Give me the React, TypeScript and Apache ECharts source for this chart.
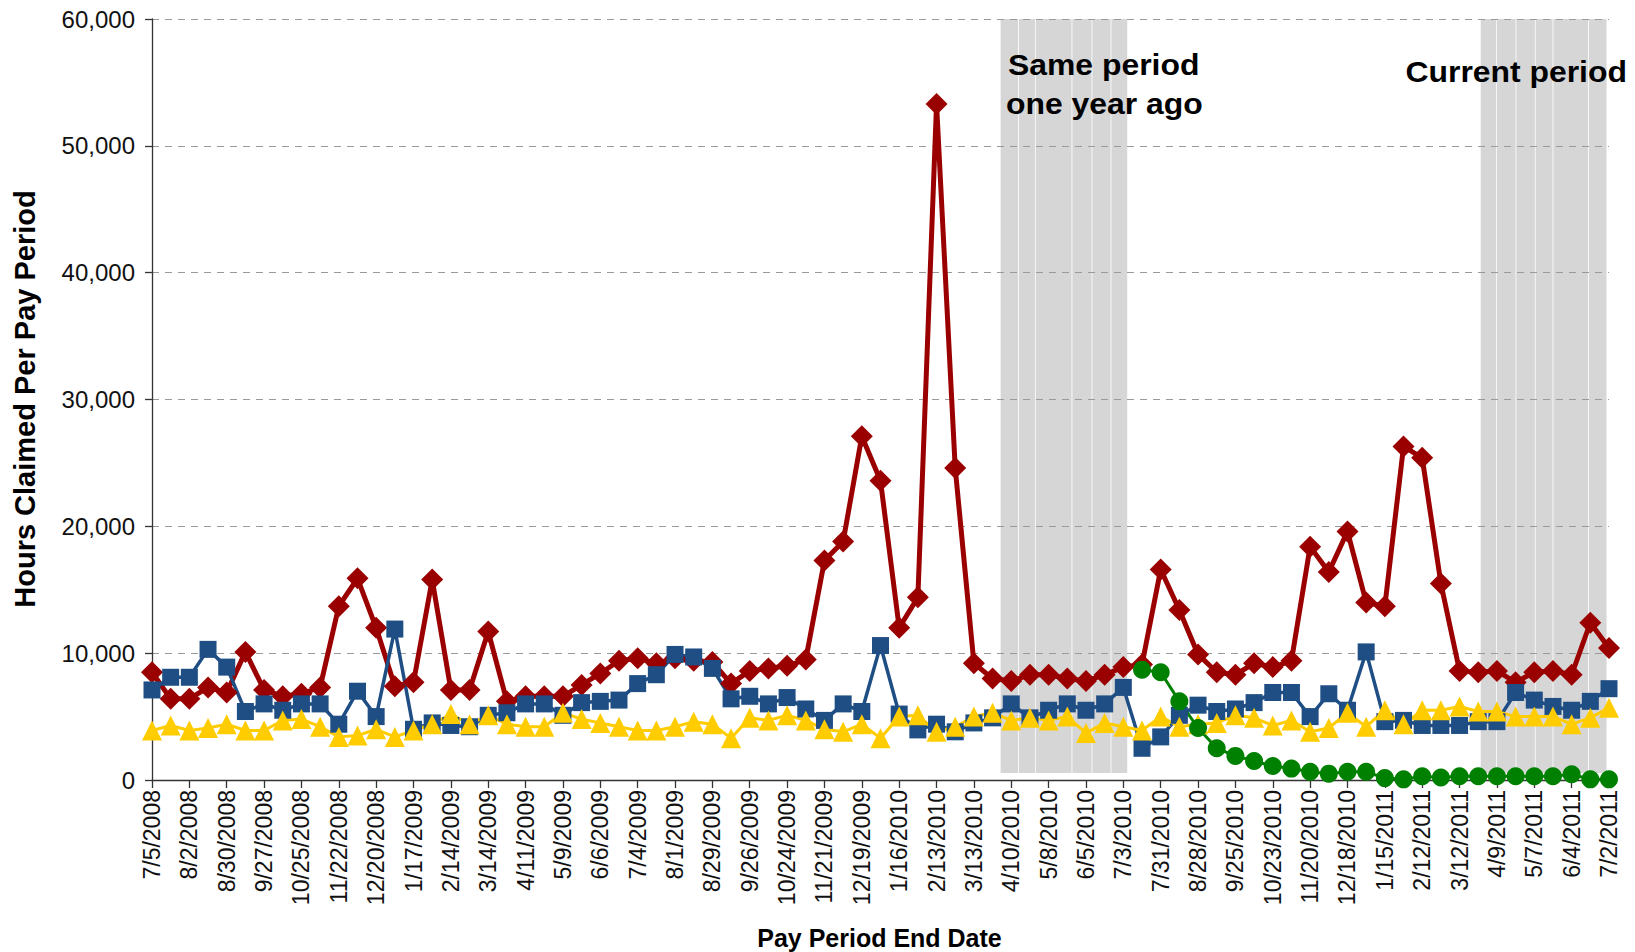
import React, { useEffect, useRef } from "react";
import * as echarts from "echarts";

// Pay period end dates shown on the category ticks (every other period)
const tickDates = [
  "7/5/2008", "8/2/2008", "8/30/2008", "9/27/2008", "10/25/2008", "11/22/2008",
  "12/20/2008", "1/17/2009", "2/14/2009", "3/14/2009", "4/11/2009", "5/9/2009",
  "6/6/2009", "7/4/2009", "8/1/2009", "8/29/2009", "9/26/2009", "10/24/2009",
  "11/21/2009", "12/19/2009", "1/16/2010", "2/13/2010", "3/13/2010", "4/10/2010",
  "5/8/2010", "6/5/2010", "7/3/2010", "7/31/2010", "8/28/2010", "9/25/2010",
  "10/23/2010", "11/20/2010", "12/18/2010", "1/15/2011", "2/12/2011", "3/12/2011",
  "4/9/2011", "5/7/2011", "6/4/2011", "7/2/2011",
];

// Hours claimed per biweekly pay period (79 periods, 7/5/2008 .. 7/2/2011)
const redHours = [
  8500, 6400, 6400, 7300, 6900, 10100, 7100, 6600, 6800, 7300,
  13700, 15900, 12000, 7400, 7700, 15800, 7100, 7100, 11700, 6200,
  6600, 6600, 6600, 7500, 8400, 9400, 9600, 9200, 9600, 9400,
  9300, 7600, 8600, 8800, 9000, 9500, 17300, 18800, 27100, 23600,
  12000, 14400, 53300, 24600, 9200, 8000, 7800, 8300, 8300, 8000,
  7800, 8300, 8900, 9100, 16600, 13400, 9900, 8500, 8300, 9200,
  8900, 9400, 18400, 16400, 19600, 14000, 13700, 26300, 25400, 15500,
  8600, 8500, 8600, 7700, 8500, 8600, 8300, 12400, 10400,
];

const blueHours = [
  7100, 8100, 8100, 10300, 8900, 5400, 6000, 5500, 6000, 6000,
  4400, 7000, 5000, 11900, 4000, 4500, 4300, 4200, 5100, 5300,
  6000, 6000, 5100, 6100, 6200, 6300, 7600, 8300, 9900, 9700,
  8800, 6400, 6600, 6000, 6500, 5600, 4700, 6000, 5400, 10600,
  5200, 3950, 4400, 3800, 4500, 4900, 6000, 4900, 5500, 6000,
  5500, 6000, 7300, 2500, 3400, 5100, 5900, 5400, 5600, 6100,
  6900, 6900, 5000, 6800, 5500, 10100, 4600, 4700, 4300, 4300,
  4300, 4600, 4600, 6900, 6300, 5800, 5500, 6200, 7200,
];

const yellowHours = [
  3900, 4300, 3900, 4100, 4400, 3900, 3900, 4700, 4800, 4200,
  3400, 3500, 4000, 3400, 3900, 4400, 5200, 4400, 5100, 4400,
  4200, 4200, 5300, 4800, 4500, 4200, 3900, 3900, 4200, 4600,
  4400, 3300, 4900, 4700, 5100, 4700, 4000, 3800, 4400, 3300,
  5000, 5100, 3800, 4200, 5000, 5300, 4700, 4900, 4700, 5000,
  3700, 4500, 4200, 3900, 5000, 4200, 4400, 4500, 5100, 4900,
  4300, 4700, 3800, 4100, 5300, 4200, 5500, 4400, 5500, 5500,
  5800, 5400, 5400, 5000, 5000, 5000, 4400, 4900, 5700,
];

// Green series begins at period index 53 (7/17/2010)
const greenStart = 53;
const greenHours = [
  8700, 8500, 6200, 4100, 2500, 1900, 1500, 1100, 900, 650,
  500, 650, 650, 150, 50, 300, 200, 300, 300, 300,
  300, 300, 300, 450, 50, 50,
];

// Shaded comparison windows, in period-index units (column edges)
const sameYearAgoEdges = [45.41, 46.39, 47.29, 49.25, 50.32, 51.34, 52.23];
const currentEdges = [71.11, 71.97, 73.02, 74.05, 75.0, 76.9, 77.89];
const bandFloor = 550;
const bandTop = 60000;

const yTicks = { min: 0, max: 60000, interval: 10000 };

const toPairs = (vals: number[], start = 0) => vals.map((v, i) => [start + i, v]);

const segments = (edges: number[]) =>
  edges.slice(0, -1).map((e, i) => [e, edges[i + 1]]);

export default function App() {
  const ref = useRef<HTMLDivElement>(null);

  useEffect(() => {
    if (!ref.current) return;
    const chart = echarts.init(ref.current, undefined, { renderer: "svg" });
    const lastIndex = redHours.length - 1;

    const lineSeries = (
      name: string,
      data: number[][],
      color: string,
      symbol: string,
      symbolSize: number,
      width: number
    ) => ({
      name,
      type: "line",
      data,
      symbol,
      symbolSize,
      lineStyle: { color, width },
      itemStyle: { color, borderWidth: 0 },
      emphasis: { disabled: true },
      silent: true,
      z: 3,
    });

    chart.setOption({
      animation: false,
      grid: { left: 152, right: 26, top: 19, bottom: 172 },
      xAxis: {
        type: "value",
        min: 0,
        max: lastIndex,
        interval: 2,
        axisLine: { show: true, onZero: false, lineStyle: { color: "#333", width: 1.3 } },
        axisTick: { show: true, length: 8, lineStyle: { color: "#333", width: 1.3 } },
        splitLine: { show: false },
        axisLabel: {
          rotate: 90,
          margin: 10,
          fontSize: 23,
          color: "#111",
          fontFamily: '"Liberation Sans", Arial, sans-serif',
          showMinLabel: true,
          showMaxLabel: true,
          formatter: (v: number) => tickDates[Math.round(v / 2)] ?? "",
        },
      },
      yAxis: {
        type: "value",
        min: yTicks.min,
        max: yTicks.max,
        interval: yTicks.interval,
        axisLine: { show: true, lineStyle: { color: "#333", width: 1.3 } },
        axisTick: { show: true, length: 7, lineStyle: { color: "#333", width: 1.3 } },
        splitLine: {
          show: true,
          lineStyle: { color: "#9a9a9a", width: 1, type: [7, 6] },
        },
        axisLabel: {
          margin: 17,
          fontSize: 24,
          color: "#111",
          fontFamily: '"Liberation Sans", Arial, sans-serif',
          formatter: (v: number) => v.toLocaleString("en-US"),
        },
      },
      series: [
        {
          type: "custom",
          silent: true,
          z: -1,
          coordinateSystem: "cartesian2d",
          encode: { x: [0, 1] },
          data: [...segments(sameYearAgoEdges), ...segments(currentEdges)],
          renderItem: (_params: any, api: any) => {
            const p0 = api.coord([api.value(0), bandTop]);
            const p1 = api.coord([api.value(1), bandFloor]);
            return {
              type: "rect",
              shape: {
                x: p0[0] + 0.4,
                y: p0[1],
                width: p1[0] - p0[0] - 0.8,
                height: p1[1] - p0[1],
              },
              style: { fill: "#d6d6d6" },
            };
          },
        },
        lineSeries("red", toPairs(redHours), "#9b0000", "diamond", 22, 5),
        lineSeries("blue", toPairs(blueHours), "#1f4e85", "rect", 17, 3.5),
        lineSeries("yellow", toPairs(yellowHours), "#ffcc00", "triangle", 20, 3),
        lineSeries("green", toPairs(greenHours, greenStart), "#008000", "circle", 18, 3),
      ],
      graphic: [
        {
          type: "text",
          x: 24.5,
          y: 399,
          rotation: Math.PI / 2,
          style: {
            text: "Hours Claimed Per Pay Period",
            font: 'bold 29px "Liberation Sans", Arial, sans-serif',
            align: "center",
            verticalAlign: "middle",
            textAlign: "center",
            textVerticalAlign: "middle",
            fill: "#000",
          },
        },
        {
          type: "text",
          x: 879.5,
          y: 937.5,
          style: {
            text: "Pay Period End Date",
            font: 'bold 25px "Liberation Sans", Arial, sans-serif',
            align: "center",
            verticalAlign: "middle",
            textAlign: "center",
            textVerticalAlign: "middle",
            fill: "#000",
          },
        },
        {
          type: "text",
          x: 1008,
          y: 65,
          scaleX: 1.1,
          style: {
            text: "Same period",
            font: 'bold 29px "Liberation Sans", Arial, sans-serif',
            align: "left",
            verticalAlign: "middle",
            textAlign: "left",
            textVerticalAlign: "middle",
            fill: "#000",
          },
        },
        {
          type: "text",
          x: 1006,
          y: 104,
          scaleX: 1.1,
          style: {
            text: "one year ago",
            font: 'bold 29px "Liberation Sans", Arial, sans-serif',
            align: "left",
            verticalAlign: "middle",
            textAlign: "left",
            textVerticalAlign: "middle",
            fill: "#000",
          },
        },
        {
          type: "text",
          x: 1405.5,
          y: 72,
          scaleX: 1.1,
          style: {
            text: "Current period",
            font: 'bold 29px "Liberation Sans", Arial, sans-serif',
            align: "left",
            verticalAlign: "middle",
            textAlign: "left",
            textVerticalAlign: "middle",
            fill: "#000",
          },
        },
      ],
    });

    return () => chart.dispose();
  }, []);

  return (
    <div
      ref={ref}
      style={{ position: "fixed", left: 0, top: 0, width: 1635, height: 952, background: "#fff" }}
    />
  );
}
